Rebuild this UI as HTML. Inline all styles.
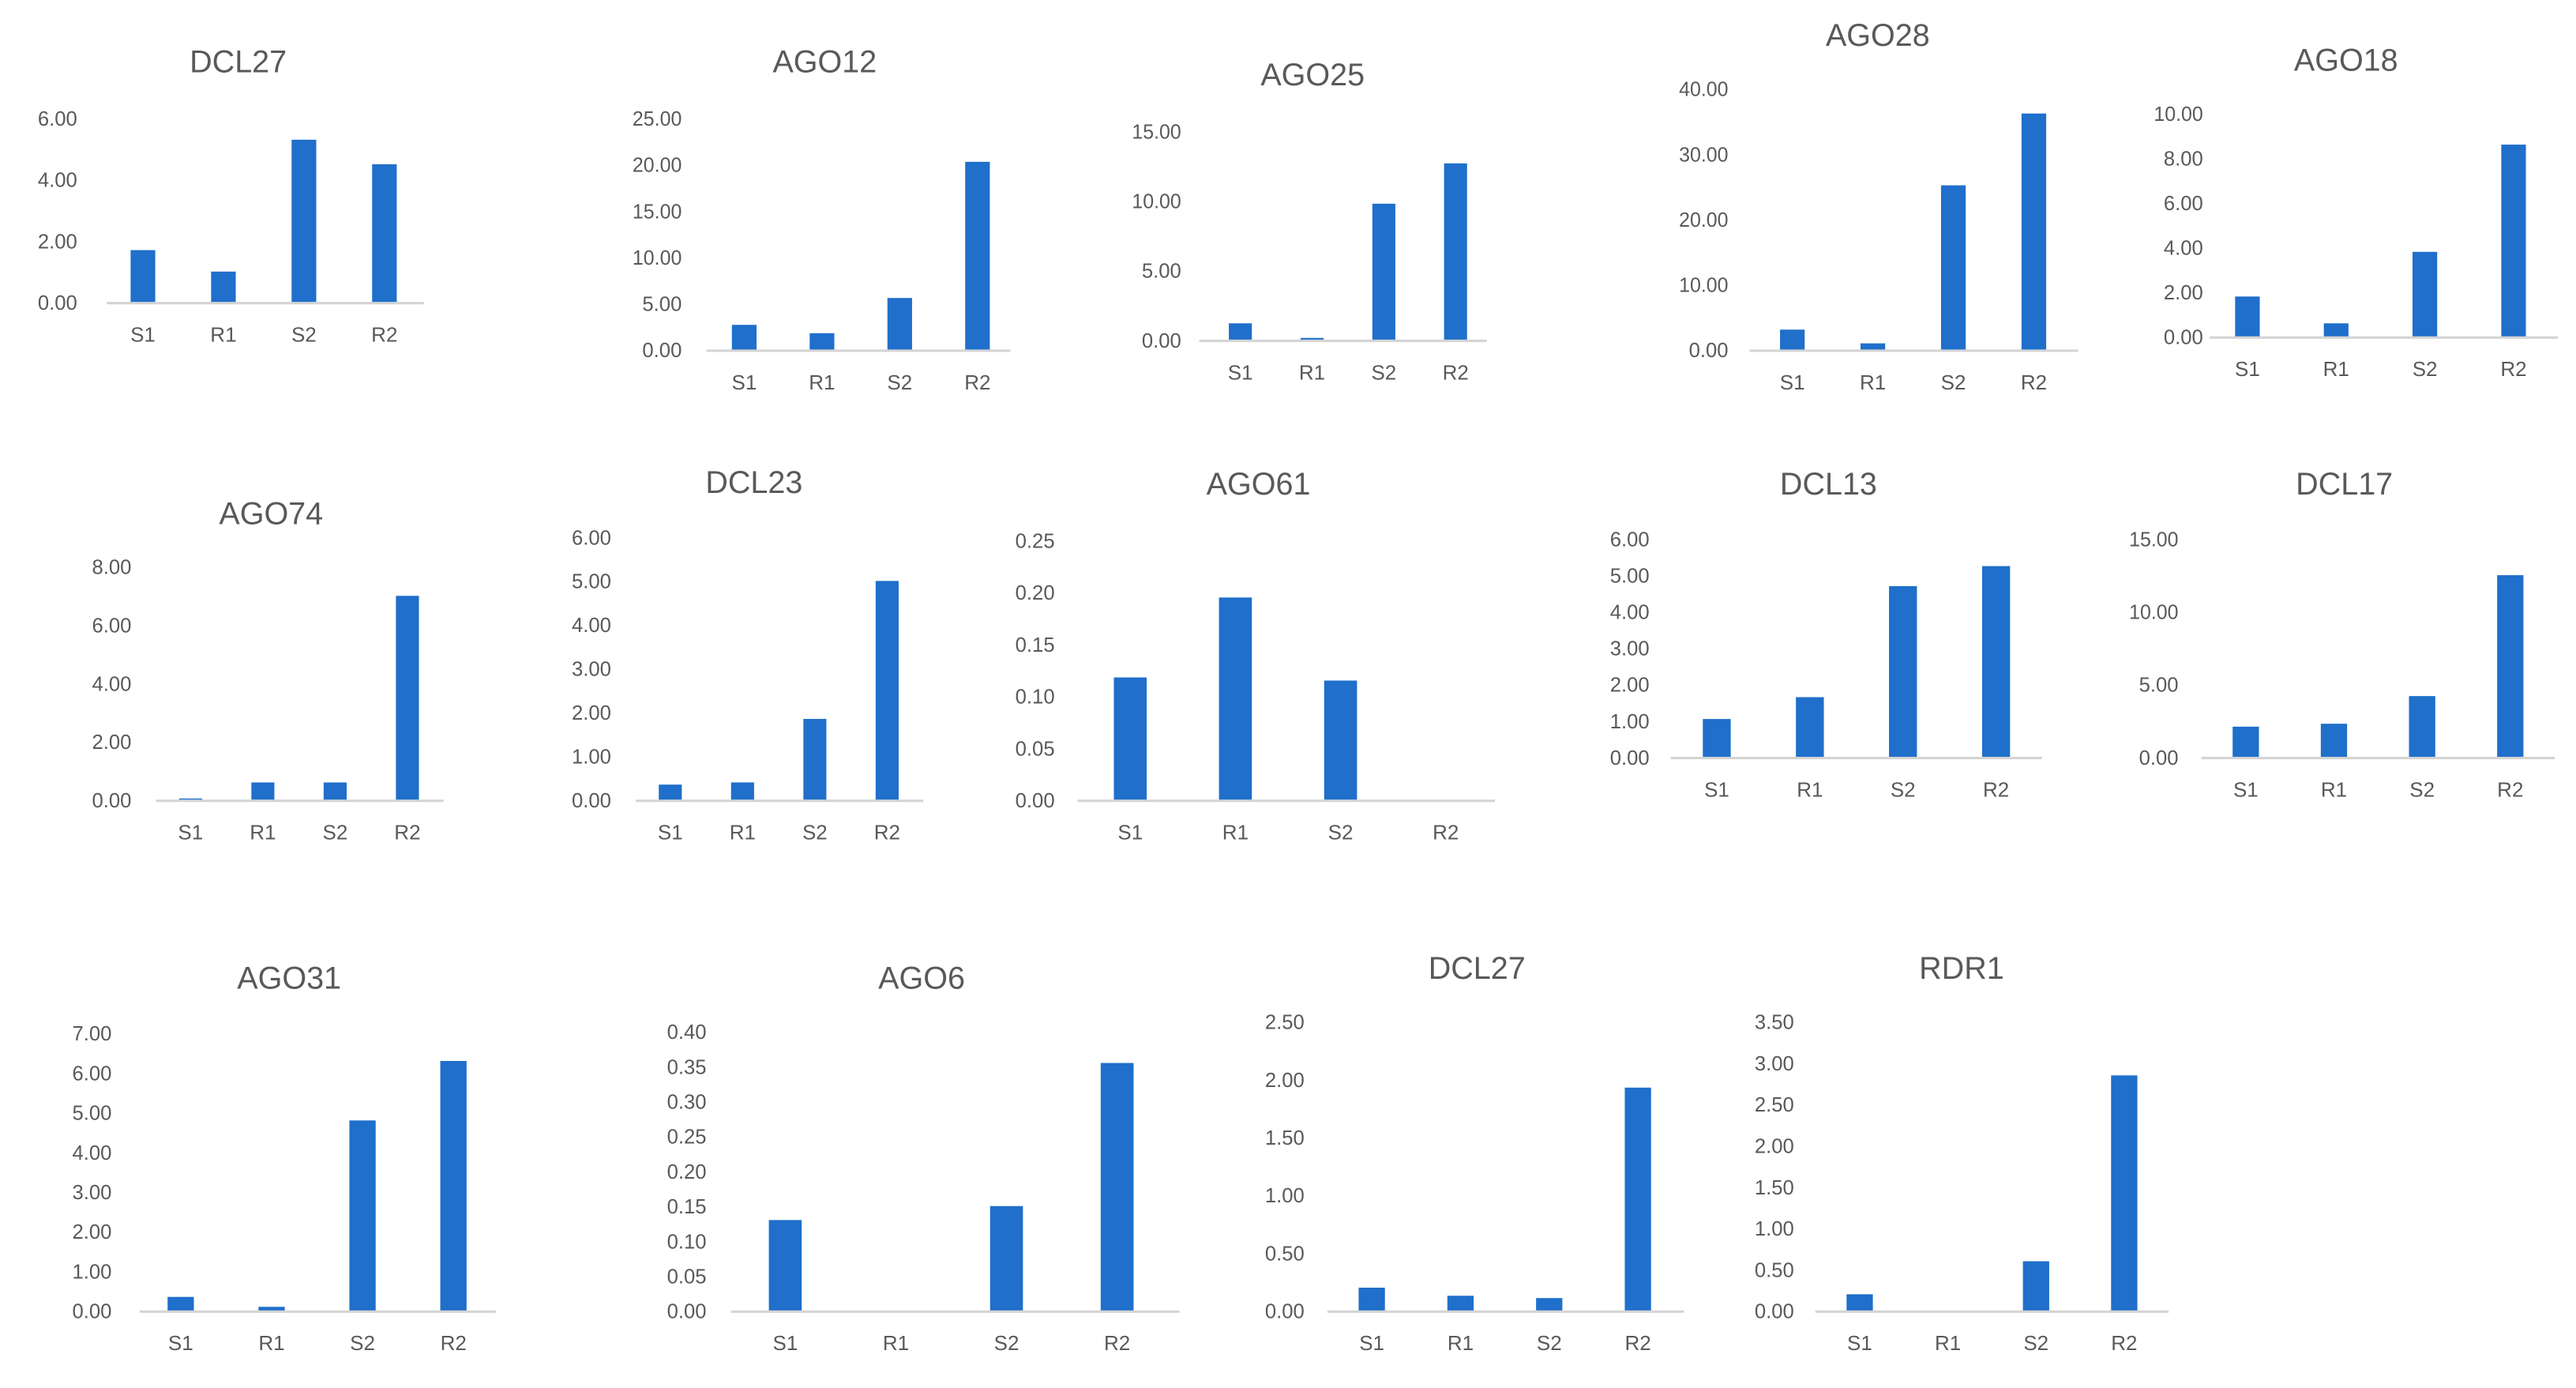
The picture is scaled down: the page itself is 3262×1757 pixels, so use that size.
<!DOCTYPE html>
<html><head><meta charset="utf-8">
<style>
html,body{margin:0;padding:0;background:#fff;}
svg{display:block;}
text{font-family:"Liberation Sans",sans-serif;fill:#595959;}
</style></head>
<body>
<svg id="fig" width="3262" height="1757" viewBox="0 0 1568 845" preserveAspectRatio="none" xmlns="http://www.w3.org/2000/svg"></svg>
<script>
const categories = ['S1','R1','S2','R2'];
const titles = ['DCL27','AGO12','AGO25','AGO28','AGO18','AGO74','DCL23','AGO61','DCL13','DCL17','AGO31','AGO6','DCL27','RDR1'];
const valsDCL27a = [1.7, 1.0, 5.3, 4.5];
const valsAGO12 = [2.7, 1.8, 5.6, 20.3];
const valsAGO25 = [1.2, 0.15, 9.8, 12.7];
const valsAGO28 = [3.1, 1.0, 25.2, 36.2];
const valsAGO18 = [1.8, 0.6, 3.8, 8.6];
const valsAGO74 = [0.05, 0.6, 0.6, 7.0];
const valsDCL23 = [0.35, 0.4, 1.85, 5.0];
const valsAGO61 = [0.118, 0.195, 0.115, 0];
const valsDCL13 = [1.05, 1.65, 4.7, 5.25];
const valsDCL17 = [2.1, 2.3, 4.2, 12.5];
const valsAGO31 = [0.35, 0.1, 4.8, 6.3];
const valsAGO6 = [0.13, 0, 0.15, 0.355];
const valsDCL27b = [0.2, 0.13, 0.11, 1.93];
const valsRDR1 = [0.2, 0, 0.6, 2.85];
const ticksDCL27a = ['0.00','2.00','4.00','6.00'];
const ticksAGO12 = ['0.00','5.00','10.00','15.00','20.00','25.00'];
const ticksAGO25 = ['0.00','5.00','10.00','15.00'];
const ticksAGO28 = ['0.00','10.00','20.00','30.00','40.00'];
const ticksAGO18 = ['0.00','2.00','4.00','6.00','8.00','10.00'];
const ticksAGO74 = ['0.00','2.00','4.00','6.00','8.00'];
const ticksDCL23 = ['0.00','1.00','2.00','3.00','4.00','5.00','6.00'];
const ticksAGO61 = ['0.00','0.05','0.10','0.15','0.20','0.25'];
const ticksDCL13 = ['0.00','1.00','2.00','3.00','4.00','5.00','6.00'];
const ticksDCL17 = ['0.00','5.00','10.00','15.00'];
const ticksAGO31 = ['0.00','1.00','2.00','3.00','4.00','5.00','6.00','7.00'];
const ticksAGO6 = ['0.00','0.05','0.10','0.15','0.20','0.25','0.30','0.35','0.40'];
const ticksDCL27b = ['0.00','0.50','1.00','1.50','2.00','2.50'];
const ticksRDR1 = ['0.00','0.50','1.00','1.50','2.00','2.50','3.00','3.50'];

const allVals = [valsDCL27a,valsAGO12,valsAGO25,valsAGO28,valsAGO18,valsAGO74,valsDCL23,valsAGO61,valsDCL13,valsDCL17,valsAGO31,valsAGO6,valsDCL27b,valsRDR1];
const allTicks = [ticksDCL27a,ticksAGO12,ticksAGO25,ticksAGO28,ticksAGO18,ticksAGO74,ticksDCL23,ticksAGO61,ticksDCL13,ticksDCL17,ticksAGO31,ticksAGO6,ticksDCL27b,ticksRDR1];

const layout = [
 [145,37,47,65,258,72,184,87,234,15],
 [502,37,415,430,615,72,213,453,595,15],
 [799,45,719,730,905,80,207,755,886,14],
 [1143,21,1052,1065,1265,54,213,1091,1238,15],
 [1428,36,1341,1345,1557,69,205,1368,1530,15],
 [165,312,80,95,270,345,487,116,248,14],
 [459,293,372,387,562,327,487,408,540,14],
 [766,294,642,656,910,329,487,688,880,20],
 [1113,294,1004,1017,1243,328,461,1045,1215,17],
 [1427,294,1326,1340,1555,328,461,1367,1528,16],
 [176,595,68,85,302,629,798,110,276,16],
 [561,595,430,445,718,628,798,478,680,20],
 [899,589,794,808,1025,622,798,835,997,16],
 [1194,589,1092,1105,1320,622,798,1132,1293,16]
];
const NS='http://www.w3.org/2000/svg';
const svg=document.getElementById('fig');
function mk(tag,attrs,parent){const e=document.createElementNS(NS,tag);for(const k in attrs)e.setAttribute(k,attrs[k]);parent.appendChild(e);return e;}

titles.forEach((t,i)=>{
  const L=layout[i], vals=allVals[i], ticks=allTicks[i];
  const g=mk('g',{},svg);
  
  
  const maxV=parseFloat(ticks[ticks.length-1]);
  const y=v=>L[6]-(v/maxV)*(L[6]-L[5]);
  const x=k=>L[7]+k*(L[8]-L[7])/(categories.length-1);
  const tt=mk('text',{x:L[0],y:L[1]+7,'text-anchor':'middle','font-size':19},g);
  tt.textContent=t;
  
  
  ticks.forEach(tk=>{
    const tx=mk('text',{x:L[2],y:y(parseFloat(tk))+4.5,'text-anchor':'end','font-size':12.5,textLength:tk.length>4?30:24,lengthAdjust:'spacingAndGlyphs'},g);
    tx.textContent=tk;
    
    
  });
  vals.forEach((v,k)=>{
    const top=y(v);
    const r=mk('rect',{x:x(k)-L[9]/2,y:top,width:L[9],height:Math.max(0,L[6]-top),fill:'#1f6fcb'},g);
    
    
  });
  const ax=mk('line',{x1:L[3],x2:L[4],y1:L[6]+0.5,y2:L[6]+0.5,stroke:'#d4d4d4','stroke-width':1.5},g);
  
  
  categories.forEach((c,k)=>{
    const cx=mk('text',{x:x(k),y:L[6]+24,'text-anchor':'middle','font-size':12.5},g);
    cx.textContent=c;
    
    
  });
});
</script>
</body></html>
